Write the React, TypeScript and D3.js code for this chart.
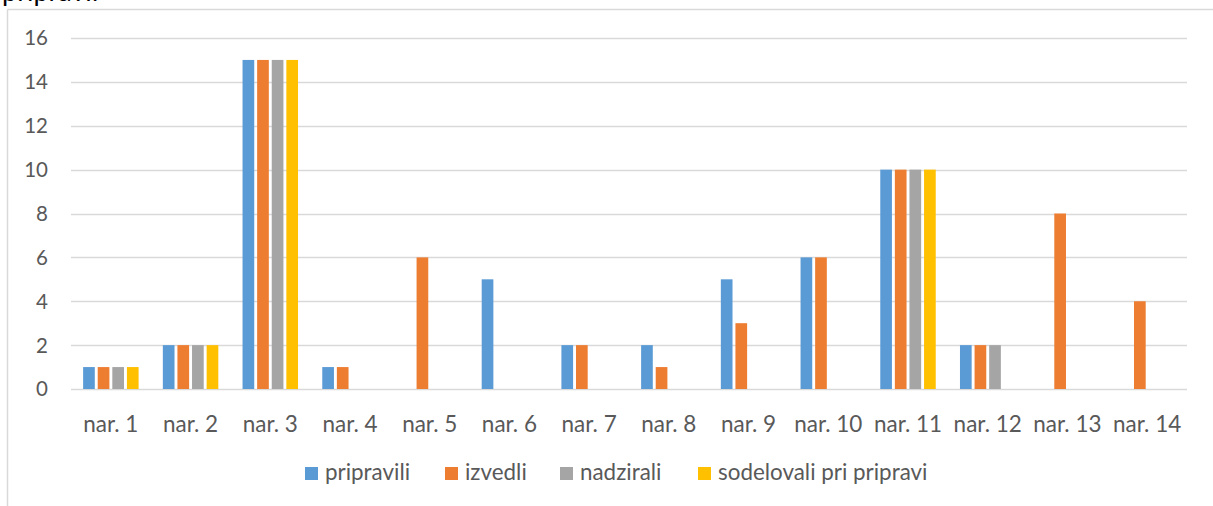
import React from "react";
import * as d3 from "d3";

const categories = ["nar. 1","nar. 2","nar. 3","nar. 4","nar. 5","nar. 6","nar. 7","nar. 8","nar. 9","nar. 10","nar. 11","nar. 12","nar. 13","nar. 14"];
const seriesNames = ["pripravili","izvedli","nadzirali","sodelovali pri pripravi"];
const pripravili = [1,2,15,1,0,5,2,2,5,6,10,2,0,0];
const izvedli = [1,2,15,1,6,0,2,1,3,6,10,2,8,4];
const nadzirali = [1,2,15,0,0,0,0,0,0,0,10,2,0,0];
const sodelovali = [1,2,15,0,0,0,0,0,0,0,10,0,0,0];
const colors = ["#5b9bd5","#ed7d31","#a5a5a5","#ffc000"];
const yTicks = [0,2,4,6,8,10,12,14,16];
const legendX = [305, 445, 560, 698];

const W = 1213, H = 506;
const FONT = "Lato, 'Open Sans', sans-serif";

export default function App() {
  const seriesValues = [pripravili, izvedli, nadzirali, sodelovali];
  const x = d3.scaleBand<string>().domain(categories).range([71, 1187]).paddingInner(0).paddingOuter(0);
  const xs = d3.scaleBand<string>().domain(seriesNames).range([-29.2, 29.2]).paddingInner(0.2).paddingOuter(0.1);
  const y = d3.scaleLinear().domain([0, 16]).range([389, 38]);

  return (
    <svg width={W} height={H} style={{ position: "absolute", left: 0, top: 0, background: "#fff" }} fontFamily={FONT}>
      <rect x={0} y={0} width={W} height={H} fill="#fff" />
      <text x={2} y={0.5} fontSize={27} fill="#000">pripravi:</text>
      <line x1={7.5} x2={W} y1={9.5} y2={9.5} stroke="#d9d9d9" strokeWidth={1.5} />
      <line x1={7.5} x2={7.5} y1={9.5} y2={H} stroke="#d9d9d9" strokeWidth={1.5} />
      {yTicks.map(t => (
        <g key={t}>
          <line x1={71} x2={1187} y1={Math.round(y(t)) + 0.5} y2={Math.round(y(t)) + 0.5} stroke="#d9d9d9" strokeWidth={1.3} />
          <text x={48} y={y(t)} dy="0.36em" textAnchor="end" fontSize={20.5} fill="#595959">{t}</text>
        </g>
      ))}
      {categories.map((c, i) => {
        const cx = (x(c) as number) + x.bandwidth() / 2;
        return (
          <g key={c}>
            {seriesNames.map((s, j) => {
              const v = seriesValues[j][i];
              if (!v) return null;
              return (
                <rect key={s} x={cx + (xs(s) as number)} width={xs.bandwidth()} y={y(v)} height={y(0) - y(v)} fill={colors[j]} />
              );
            })}
            <text x={cx} y={432} textAnchor="middle" fontSize={22.5} fill="#595959">{c}</text>
          </g>
        );
      })}
      {seriesNames.map((s, j) => (
        <g key={s}>
          <rect x={legendX[j]} y={467} width={13} height={13} fill={colors[j]} />
          <text x={legendX[j] + 20} y={480} fontSize={22.4} fill="#595959">{s}</text>
        </g>
      ))}
    </svg>
  );
}
